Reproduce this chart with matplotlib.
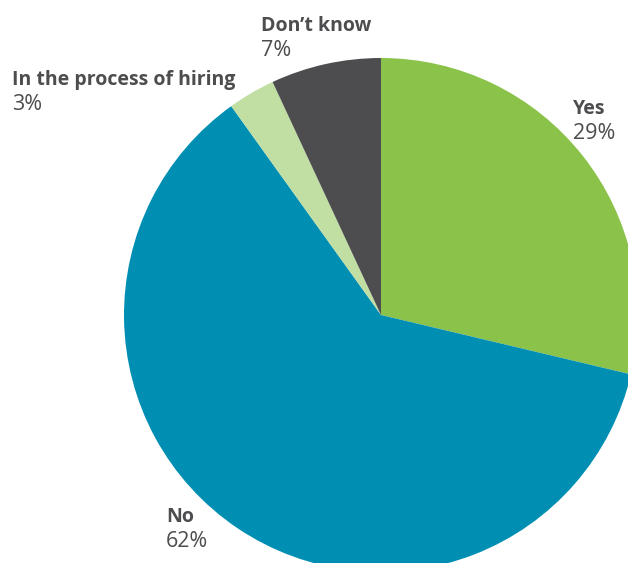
import matplotlib
matplotlib.use("Agg")
import matplotlib.pyplot as plt

categories = ["Yes", "No", "In the process of hiring", "Don\u2019t know"]
shares = [29, 62, 3, 7]
colors = ["#8bc34a", "#008fb3", "#c1dfa3", "#4d4d4f"]

W, H = 628, 563
fig = plt.figure(figsize=(W / 100, H / 100), dpi=100)
ax = fig.add_axes([0, 0, 1, 1])

cx, cy, r = 381, H - 315, 257
ax.pie(shares, colors=colors, startangle=90, counterclock=False,
       center=(cx, cy), radius=r, frame=True,
       wedgeprops=dict(linewidth=0))
ax.set_xlim(0, W)
ax.set_ylim(0, H)
ax.set_aspect("equal")
ax.axis("off")

# label baselines (x, y of first line, in pixels from top)
label_pos = {
    "Yes": (573, 114),
    "No": (166, 522),
    "In the process of hiring": (12, 85),
    "Don\u2019t know": (261, 31),
}
txt = "#4d4d4f"
for cat, val in zip(categories, shares):
    x, y = label_pos[cat]
    ax.text(x, H - y, cat, ha="left", va="baseline", fontsize=14,
            fontweight="bold", color=txt, family="Open Sans")
    ax.text(x, H - y - 25, f"{val}%", ha="left", va="baseline", fontsize=15.5,
            color=txt, family="Open Sans")

fig.savefig("out.png", dpi=100)
